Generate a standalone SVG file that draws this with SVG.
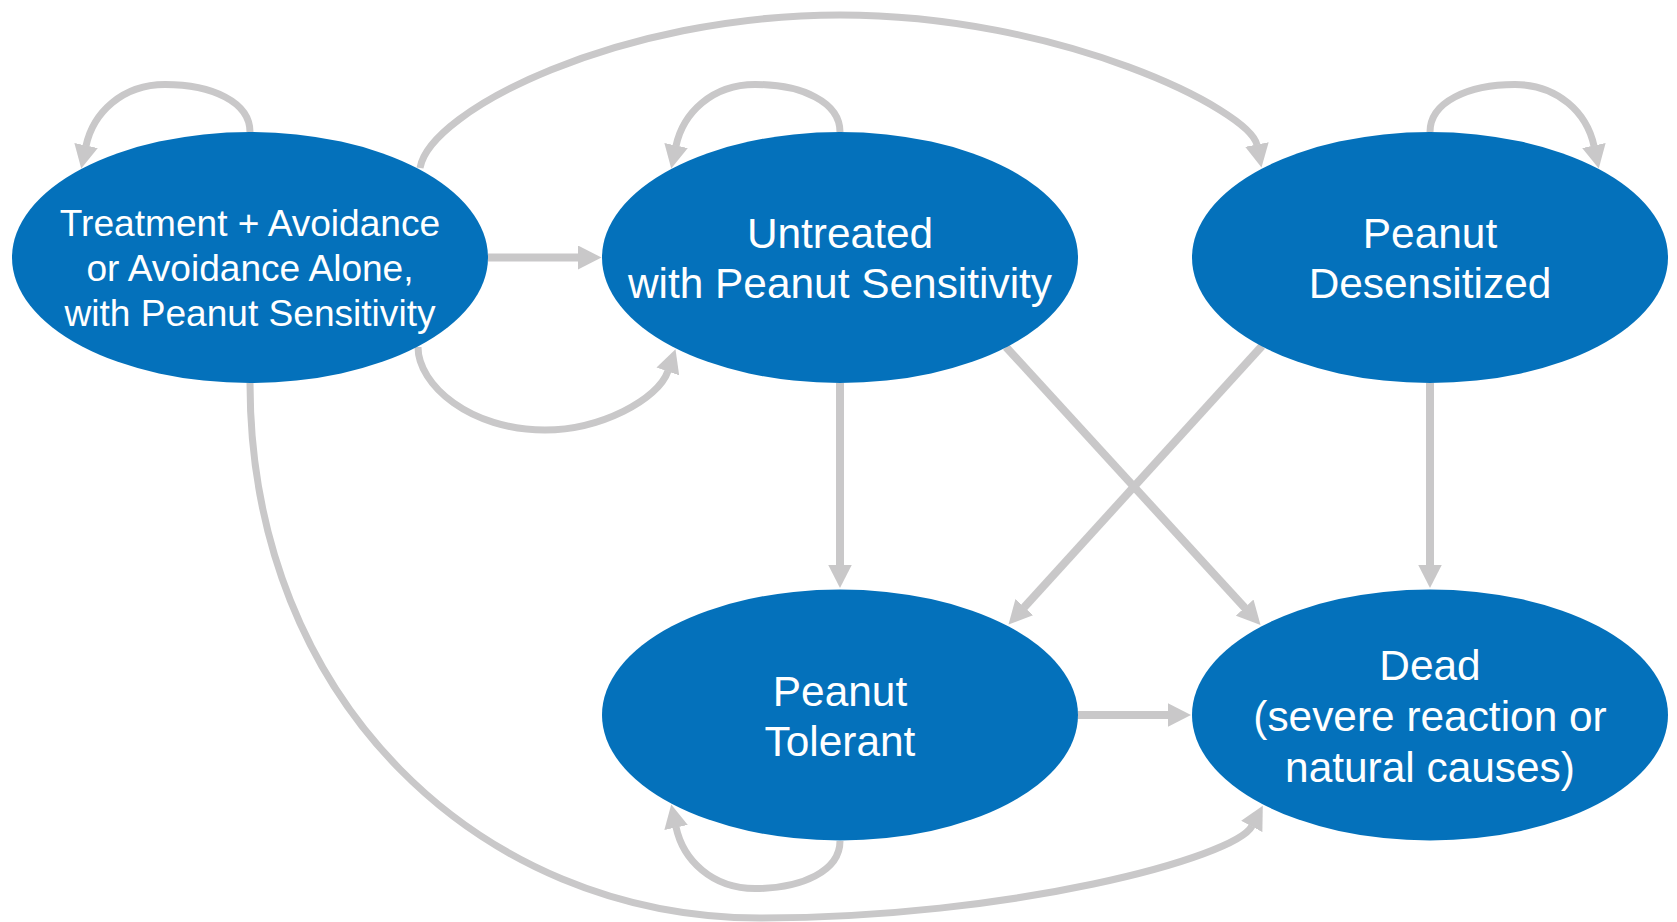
<svg xmlns="http://www.w3.org/2000/svg" width="1677" height="922" viewBox="0 0 1677 922">
<defs>
<style>
.node{fill:#0471BB;}
.t{fill:#FFFFFF;font-family:"Liberation Sans",Arial,sans-serif;text-anchor:middle;}
.t1{font-size:37.1px;}
.t2{font-size:42.4px;}
.c{fill:none;stroke:#C9C8C9;stroke-width:7;marker-end:url(#ah);}
.s{stroke-width:8;}
</style>
<marker id="ah" viewBox="0 0 24 24" markerWidth="24" markerHeight="24" markerUnits="userSpaceOnUse" refX="0.5" refY="12" orient="auto">
<polygon points="0,0 23.5,12 0,24" fill="#C9C8C9"/>
</marker>
</defs>
<rect width="1677" height="922" fill="#FFFFFF"/>
<g id="connectors">
<path class="c" d="M250,132 C250,102 212,84.5 165,84.5 C122,84.5 93,113 86,146"/>
<path class="c" d="M840,132 C840,102 802,84.5 755,84.5 C712,84.5 683,113 676,146"/>
<path class="c" d="M1430,132 C1430,102 1468,84.5 1515,84.5 C1558,84.5 1587,113 1594,146"/>
<path class="c" d="M840,841 C840,871 802,888.5 755,888.5 C712,888.5 683,860 676,827"/>
<path class="c s" d="M488,257.5 H578.5"/>
<path class="c" d="M418,347 C418,385 470,430 545,430 C600,430 658,400 668,371"/>
<path class="c" d="M420,168 C430,110 620,15 840,15 C1060,15 1250,110 1257,145"/>
<path class="c" d="M250,383 C250,700 480,918 760,918 C1010,918 1235,858 1252,826"/>
<path class="c s" d="M840,383 V565"/>
<path class="c s" d="M1006,347 L1245,608"/>
<path class="c s" d="M1262,346 L1024,607.5"/>
<path class="c s" d="M1430,383 V565"/>
<path class="c s" d="M1078,715 H1168"/>
</g>
<g id="node-treatment">
<ellipse class="node" cx="250" cy="257.5" rx="238" ry="125.5"/>
<text class="t t1" x="250" y="235.7">Treatment + Avoidance</text>
<text class="t t1" x="250" y="280.7">or Avoidance Alone,</text>
<text class="t t1" x="250" y="325.7">with Peanut Sensitivity</text>
</g>
<g id="node-untreated">
<ellipse class="node" cx="840" cy="257.5" rx="238" ry="125.5"/>
<text class="t t2" x="840" y="248.3">Untreated</text>
<text class="t t2" x="840" y="298.3">with Peanut Sensitivity</text>
</g>
<g id="node-desensitized">
<ellipse class="node" cx="1430" cy="257.5" rx="238" ry="125.5"/>
<text class="t t2" x="1430" y="248.3">Peanut</text>
<text class="t t2" x="1430" y="298.3">Desensitized</text>
</g>
<g id="node-tolerant">
<ellipse class="node" cx="840" cy="715" rx="238" ry="125.5"/>
<text class="t t2" x="840" y="705.5">Peanut</text>
<text class="t t2" x="840" y="756">Tolerant</text>
</g>
<g id="node-dead">
<ellipse class="node" cx="1430" cy="715" rx="238" ry="125.5"/>
<text class="t t2" x="1430" y="680">Dead</text>
<text class="t t2" x="1430" y="731">(severe reaction or</text>
<text class="t t2" x="1430" y="782">natural causes)</text>
</g>
</svg>
